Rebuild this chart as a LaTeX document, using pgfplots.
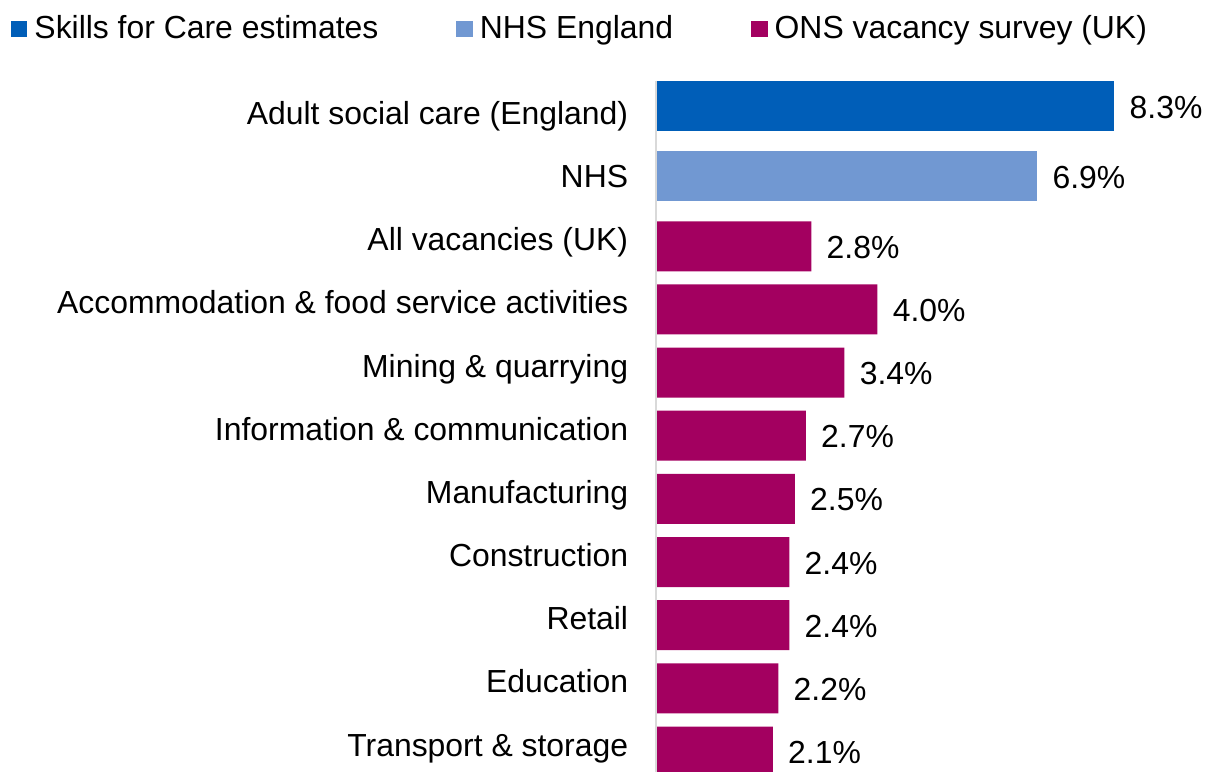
\documentclass[border=0pt]{standalone}
\usepackage{fontspec}
\setmainfont{Liberation Sans}
\usepackage{pgfplots}
\pgfplotsset{compat=1.18}
\definecolor{sfcblue}{RGB}{0,94,184}
\definecolor{nhsblue}{RGB}{113,152,210}
\definecolor{onsmag}{RGB}{163,0,96}
\definecolor{axisgray}{RGB}{217,217,217}
\newcommand\cf{\fontsize{15.95pt}{19pt}\selectfont}
\pgfplotsset{sqlegend/.style={legend image code/.code={\fill[##1] (0pt,-4.1pt) rectangle (8.25pt,4.1pt);}}}

\begin{document}
\cf
\begin{tikzpicture}
\useasboundingbox (-328pt,0pt) rectangle (275.5pt,386pt);
\begin{axis}[
  at={(0pt,0pt)}, anchor=south west,
  scale only axis, width=276pt, height=345.5pt,
  xmin=-0.02, xmax=10, ymin=81, ymax=772, y dir=reverse,
  axis x line=none, axis y line=left,
  y axis line style={-, draw=axisgray, line width=1pt},
  xtick=\empty,
  ytick={124.5,187.65,250.8,313.95,377.1,440.25,503.4,566.55,629.7,692.85,756},
  yticklabels={Adult social care (England),NHS,All vacancies (UK),Accommodation \& food service activities,Mining \& quarrying,Information \& communication,Manufacturing,Construction,Retail,Education,Transport \& storage},
  yticklabel style={anchor=base east, inner sep=0pt, xshift=-13.75pt, font=\cf},
  major tick length=0pt,
  xbar, bar width=25pt, bar shift=0pt,
  point meta=x,
  /pgf/number format/assume math mode=true,
  nodes near coords={\pgfmathprintnumber[fixed,fixed zerofill,precision=1]{\pgfplotspointmeta}\%},
  every node near coord/.append style={anchor=west, inner sep=0pt, xshift=7.5pt, yshift=-0.5pt, font=\cf, text=black},
  legend columns=3,
  legend cell align=left,
  legend style={at={(axis description cs:0,1)}, anchor=west, xshift=-322.5pt, yshift=26pt,
    draw=none, fill=none, inner sep=0pt, outer sep=0pt, font=\cf,
    nodes={inner sep=0pt},
    /tikz/every odd column/.style={column sep=3.5pt},
    /tikz/every even column/.style={column sep=39pt}},
]
\addplot[fill=sfcblue, draw=none, sqlegend]
  coordinates {(8.3,106.3)};
\addplot[fill=nhsblue, draw=none, sqlegend]
  coordinates {(6.9,176.2)};
\addplot[fill=onsmag, draw=none, sqlegend]
  coordinates {(2.8,246.3) (4.0,309.4) (3.4,372.6) (2.7,435.7) (2.5,498.9)
               (2.4,562.0) (2.4,625.2) (2.2,688.3) (2.1,751.5)};
\legend{Skills for Care estimates, NHS England, ONS vacancy survey (UK)}
\end{axis}
\end{tikzpicture}
\end{document}
